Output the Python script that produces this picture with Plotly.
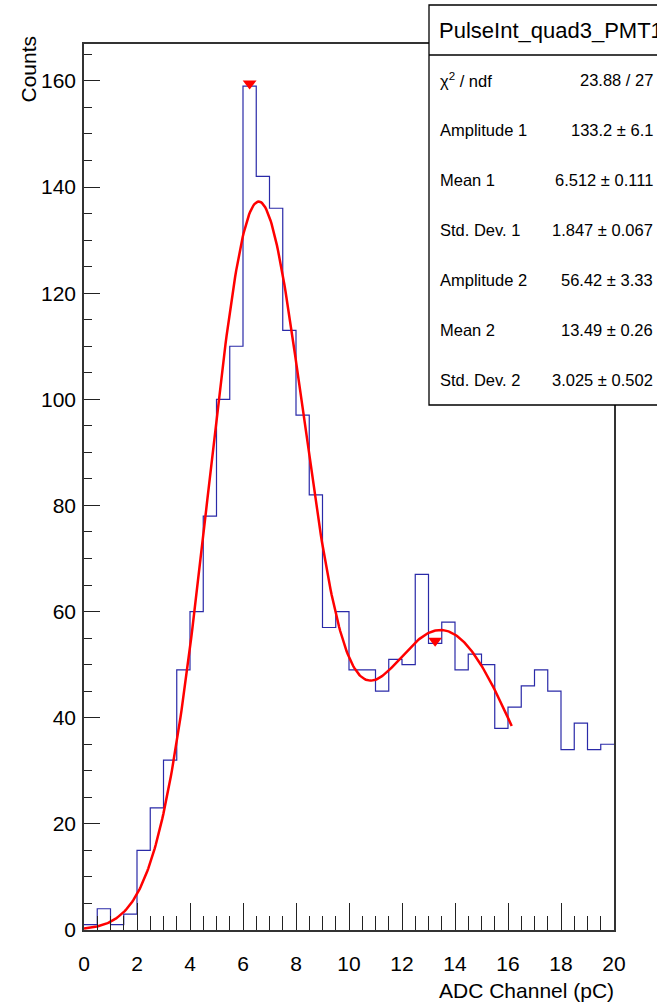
import numpy as np
import plotly.graph_objects as go

# ---- data ----
x_lo, x_hi, n_bins = 0.0, 20.0, 40
counts = [1, 4, 1, 3, 15, 23, 32, 49, 60, 78,
          100, 110, 159, 142, 136, 113, 97, 82, 57, 60,
          49, 49, 45, 51, 50, 67, 54, 58, 49, 52,
          50, 38, 42, 46, 49, 45, 34, 39, 34, 35]
peak_x = [6.25, 13.25]
peak_y = [159.5, 54.5]

# fit parameters (from stat box)
amp1, mean1, sd1 = 133.2, 6.512, 1.847
amp2, mean2, sd2 = 56.42, 13.49, 3.025
fit_lo, fit_hi = 0.0, 16.14

stat_title = "PulseInt_quad3_PMT1"
stat_labels = ["χ<sup>2</sup> / ndf", "Amplitude 1", "Mean 1", "Std. Dev. 1",
               "Amplitude 2", "Mean 2", "Std. Dev. 2"]
stat_values = ["23.88 / 27", "133.2 ± 6.1", "6.512 ± 0.111", "1.847 ± 0.067",
               "56.42 ± 3.33", "13.49 ± 0.26", "3.025 ± 0.502"]

x_ticks = list(range(0, 21, 2))
y_ticks = list(range(0, 161, 20))

# ---- build ----
edges = np.linspace(x_lo, x_hi, n_bins + 1)
hx = list(edges)
hy = counts + [counts[-1]]

fx = np.linspace(fit_lo, fit_hi, 400)
fy = amp1 * np.exp(-0.5 * ((fx - mean1) / sd1) ** 2) + amp2 * np.exp(-0.5 * ((fx - mean2) / sd2) ** 2)

W, H = 657, 1006
L, R, T, B = 84, 614, 44, 930


def px_x(p):
    return (p - L) / (R - L)


def px_y(p):
    return (B - p) / (B - T)


FONT = "Liberation Sans, Arial, Helvetica, sans-serif"

fig = go.Figure()
fig.add_trace(go.Scatter(x=hx, y=hy, mode="lines", line=dict(color="#2a2aa8", width=1.2, shape="hv"),
                         hoverinfo="skip", showlegend=False))
fig.add_trace(go.Scatter(x=fx, y=fy, mode="lines", line=dict(color="#ff0000", width=2.5),
                         hoverinfo="skip", showlegend=False))
fig.add_trace(go.Scatter(x=peak_x, y=peak_y, mode="markers",
                         marker=dict(symbol="triangle-down", size=12, color="#ff0000"),
                         hoverinfo="skip", showlegend=False))

fig.update_layout(
    width=W, height=H,
    margin=dict(l=L, r=W - R, t=T, b=H - B, pad=0),
    paper_bgcolor="white", plot_bgcolor="white",
    font=dict(family=FONT, color="black", size=21),
    xaxis=dict(range=[x_lo, x_hi], tickmode="array", tickvals=x_ticks,
               ticks="inside", ticklen=27, tickwidth=1.3, tickcolor="#222",
               minor=dict(dtick=0.5, ticks="inside", ticklen=14, tickwidth=1.3, tickcolor="#222"),
               showline=True, linecolor="#333", linewidth=1.5, mirror=True,
               showgrid=False, zeroline=False, ticklabelstandoff=14,
               tickfont=dict(size=21)),
    yaxis=dict(range=[0, 166.95], tickmode="array", tickvals=y_ticks,
               ticks="inside", ticklen=16, tickwidth=1.3, tickcolor="#222",
               minor=dict(dtick=5, ticks="inside", ticklen=8, tickwidth=1.3, tickcolor="#222"),
               showline=True, linecolor="#333", linewidth=1.5, mirror=True,
               showgrid=False, zeroline=False, ticklabelstandoff=2,
               tickfont=dict(size=21)),
)

shapes = []
annotations = []
# stat box
box_l, box_r, box_t, box_b = 429, 720, 5, 405
shapes.append(dict(type="rect", xref="paper", yref="paper",
                   x0=px_x(box_l), x1=px_x(box_r), y0=px_y(box_b), y1=px_y(box_t),
                   fillcolor="white", line=dict(color="black", width=1.3), layer="above"))
row_h = (box_b - box_t) / (len(stat_labels) + 1)
sep_y = box_t + row_h
shapes.append(dict(type="line", xref="paper", yref="paper",
                   x0=px_x(box_l), x1=px_x(box_r), y0=px_y(sep_y), y1=px_y(sep_y),
                   line=dict(color="black", width=1.3), layer="above"))
annotations.append(dict(text=stat_title, xref="paper", yref="paper",
                        x=px_x(437), y=px_y(box_t + row_h / 2), xanchor="left", yanchor="middle",
                        showarrow=False, font=dict(size=22, family=FONT, color="black")))
for i, (lab, val) in enumerate(zip(stat_labels, stat_values)):
    cy = box_t + row_h * (i + 1.5)
    annotations.append(dict(text=lab, xref="paper", yref="paper", x=px_x(438), y=px_y(cy),
                            xanchor="left", yanchor="middle", showarrow=False,
                            font=dict(size=16.5, family=FONT, color="black")))
    annotations.append(dict(text=val, xref="paper", yref="paper", x=px_x(655), y=px_y(cy),
                            xanchor="right", yanchor="middle", showarrow=False,
                            font=dict(size=16.5, family=FONT, color="black")))

# axis titles
annotations.append(dict(text="ADC Channel (pC)", xref="paper", yref="paper",
                        x=px_x(616), y=px_y(990), xanchor="right", yanchor="middle",
                        showarrow=False, font=dict(size=21, family=FONT, color="black")))
annotations.append(dict(text="Counts", xref="paper", yref="paper", textangle=-90,
                        x=px_x(28), y=px_y(34), xanchor="center", yanchor="top",
                        showarrow=False, font=dict(size=21, family=FONT, color="black")))

fig.update_layout(shapes=shapes, annotations=annotations)
fig.write_html("out.html")
